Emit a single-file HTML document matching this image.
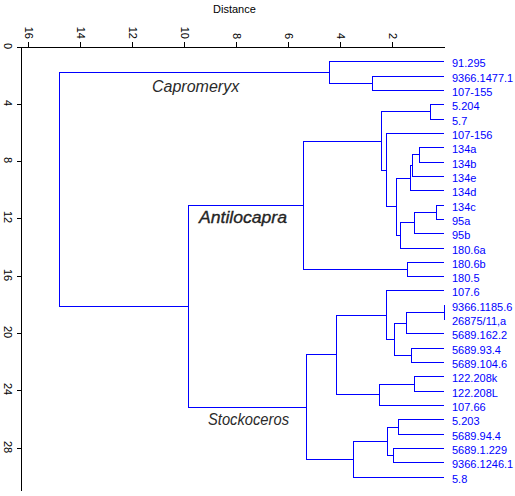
<!DOCTYPE html>
<html><head><meta charset="utf-8"><style>
html,body{margin:0;padding:0;background:#fff;width:515px;height:496px;overflow:hidden}
svg{display:block}
text{font-family:"Liberation Sans",sans-serif}
.lab text{font-size:11px;fill:#0000ff}
.tk text{font-size:11px;fill:#000}
.cl{font-family:"Liberation Sans",sans-serif;font-style:italic;font-size:16px;fill:#2a2a2a}
</style></head><body>
<svg width="515" height="496" viewBox="0 0 515 496" shape-rendering="crispEdges">
<g><rect x="372" y="76" width="1" height="15" fill="#0000ff"/><rect x="372" y="76" width="72" height="1" fill="#0000ff"/><rect x="372" y="90" width="72" height="1" fill="#0000ff"/><rect x="329" y="61" width="1" height="23" fill="#0000ff"/><rect x="329" y="61" width="115" height="1" fill="#0000ff"/><rect x="329" y="83" width="44" height="1" fill="#0000ff"/><rect x="430" y="104" width="1" height="16" fill="#0000ff"/><rect x="430" y="104" width="14" height="1" fill="#0000ff"/><rect x="430" y="119" width="14" height="1" fill="#0000ff"/><rect x="419" y="147" width="1" height="16" fill="#0000ff"/><rect x="419" y="147" width="25" height="1" fill="#0000ff"/><rect x="419" y="162" width="25" height="1" fill="#0000ff"/><rect x="412" y="154" width="1" height="23" fill="#0000ff"/><rect x="412" y="154" width="8" height="1" fill="#0000ff"/><rect x="412" y="176" width="32" height="1" fill="#0000ff"/><rect x="410" y="165" width="1" height="26" fill="#0000ff"/><rect x="410" y="165" width="3" height="1" fill="#0000ff"/><rect x="410" y="190" width="34" height="1" fill="#0000ff"/><rect x="436" y="205" width="1" height="15" fill="#0000ff"/><rect x="436" y="205" width="8" height="1" fill="#0000ff"/><rect x="436" y="219" width="8" height="1" fill="#0000ff"/><rect x="414" y="212" width="1" height="22" fill="#0000ff"/><rect x="414" y="212" width="23" height="1" fill="#0000ff"/><rect x="414" y="233" width="30" height="1" fill="#0000ff"/><rect x="400" y="222" width="1" height="27" fill="#0000ff"/><rect x="400" y="222" width="15" height="1" fill="#0000ff"/><rect x="400" y="248" width="44" height="1" fill="#0000ff"/><rect x="396" y="178" width="1" height="58" fill="#0000ff"/><rect x="396" y="178" width="15" height="1" fill="#0000ff"/><rect x="396" y="235" width="5" height="1" fill="#0000ff"/><rect x="386" y="133" width="1" height="74" fill="#0000ff"/><rect x="386" y="133" width="58" height="1" fill="#0000ff"/><rect x="386" y="206" width="11" height="1" fill="#0000ff"/><rect x="381" y="111" width="1" height="60" fill="#0000ff"/><rect x="381" y="111" width="50" height="1" fill="#0000ff"/><rect x="381" y="170" width="6" height="1" fill="#0000ff"/><rect x="407" y="262" width="1" height="15" fill="#0000ff"/><rect x="407" y="262" width="37" height="1" fill="#0000ff"/><rect x="407" y="276" width="37" height="1" fill="#0000ff"/><rect x="303" y="141" width="1" height="129" fill="#0000ff"/><rect x="303" y="141" width="79" height="1" fill="#0000ff"/><rect x="303" y="269" width="105" height="1" fill="#0000ff"/><rect x="444" y="305" width="1" height="15" fill="#0000ff"/><rect x="406" y="312" width="1" height="22" fill="#0000ff"/><rect x="406" y="312" width="39" height="1" fill="#0000ff"/><rect x="406" y="333" width="38" height="1" fill="#0000ff"/><rect x="411" y="348" width="1" height="15" fill="#0000ff"/><rect x="411" y="348" width="33" height="1" fill="#0000ff"/><rect x="411" y="362" width="33" height="1" fill="#0000ff"/><rect x="394" y="323" width="1" height="33" fill="#0000ff"/><rect x="394" y="323" width="13" height="1" fill="#0000ff"/><rect x="394" y="355" width="18" height="1" fill="#0000ff"/><rect x="386" y="290" width="1" height="50" fill="#0000ff"/><rect x="386" y="290" width="58" height="1" fill="#0000ff"/><rect x="386" y="339" width="9" height="1" fill="#0000ff"/><rect x="414" y="376" width="1" height="16" fill="#0000ff"/><rect x="414" y="376" width="30" height="1" fill="#0000ff"/><rect x="414" y="391" width="30" height="1" fill="#0000ff"/><rect x="379" y="384" width="1" height="22" fill="#0000ff"/><rect x="379" y="384" width="36" height="1" fill="#0000ff"/><rect x="379" y="405" width="65" height="1" fill="#0000ff"/><rect x="336" y="315" width="1" height="80" fill="#0000ff"/><rect x="336" y="315" width="51" height="1" fill="#0000ff"/><rect x="336" y="394" width="44" height="1" fill="#0000ff"/><rect x="398" y="419" width="1" height="16" fill="#0000ff"/><rect x="398" y="419" width="46" height="1" fill="#0000ff"/><rect x="398" y="434" width="46" height="1" fill="#0000ff"/><rect x="393" y="448" width="1" height="15" fill="#0000ff"/><rect x="393" y="448" width="51" height="1" fill="#0000ff"/><rect x="393" y="462" width="51" height="1" fill="#0000ff"/><rect x="387" y="427" width="1" height="29" fill="#0000ff"/><rect x="387" y="427" width="12" height="1" fill="#0000ff"/><rect x="387" y="455" width="7" height="1" fill="#0000ff"/><rect x="353" y="441" width="1" height="37" fill="#0000ff"/><rect x="353" y="441" width="35" height="1" fill="#0000ff"/><rect x="353" y="477" width="91" height="1" fill="#0000ff"/><rect x="306" y="354" width="1" height="106" fill="#0000ff"/><rect x="306" y="354" width="31" height="1" fill="#0000ff"/><rect x="306" y="459" width="48" height="1" fill="#0000ff"/><rect x="188" y="205" width="1" height="203" fill="#0000ff"/><rect x="188" y="205" width="116" height="1" fill="#0000ff"/><rect x="188" y="407" width="119" height="1" fill="#0000ff"/><rect x="59" y="72" width="1" height="235" fill="#0000ff"/><rect x="59" y="72" width="271" height="1" fill="#0000ff"/><rect x="59" y="306" width="130" height="1" fill="#0000ff"/><rect x="17" y="47" width="428" height="1" fill="#000000"/><rect x="21" y="47" width="1" height="444" fill="#000000"/><rect x="392" y="42" width="1" height="5" fill="#000000"/><rect x="340" y="42" width="1" height="5" fill="#000000"/><rect x="288" y="42" width="1" height="5" fill="#000000"/><rect x="236" y="42" width="1" height="5" fill="#000000"/><rect x="184" y="42" width="1" height="5" fill="#000000"/><rect x="132" y="42" width="1" height="5" fill="#000000"/><rect x="80" y="42" width="1" height="5" fill="#000000"/><rect x="28" y="42" width="1" height="5" fill="#000000"/><rect x="17" y="47" width="4" height="1" fill="#000000"/><rect x="17" y="104" width="4" height="1" fill="#000000"/><rect x="17" y="161" width="4" height="1" fill="#000000"/><rect x="17" y="218" width="4" height="1" fill="#000000"/><rect x="17" y="276" width="4" height="1" fill="#000000"/><rect x="17" y="333" width="4" height="1" fill="#000000"/><rect x="17" y="390" width="4" height="1" fill="#000000"/><rect x="17" y="448" width="4" height="1" fill="#000000"/></g>
<g class="lab"><text x="452" y="67">91.295</text><text x="452" y="82">9366.1477.1</text><text x="452" y="96">107-155</text><text x="452" y="110">5.204</text><text x="452" y="125">5.7</text><text x="452" y="139">107-156</text><text x="452" y="153">134a</text><text x="452" y="168">134b</text><text x="452" y="182">134e</text><text x="452" y="196">134d</text><text x="452" y="211">134c</text><text x="452" y="225">95a</text><text x="452" y="239">95b</text><text x="452" y="254">180.6a</text><text x="452" y="268">180.6b</text><text x="452" y="282">180.5</text><text x="452" y="296">107.6</text><text x="452" y="311">9366.1185.6</text><text x="452" y="325">26875/11,a</text><text x="452" y="339">5689.162.2</text><text x="452" y="354">5689.93.4</text><text x="452" y="368">5689.104.6</text><text x="452" y="382">122.208k</text><text x="452" y="397">122.208L</text><text x="452" y="411">107.66</text><text x="452" y="425">5.203</text><text x="452" y="440">5689.94.4</text><text x="452" y="454">5689.1.229</text><text x="452" y="468">9366.1246.1</text><text x="452" y="483">5.8</text></g>
<g class="tk"><text transform="translate(389,39) rotate(90)" text-anchor="end">2</text><text transform="translate(337,39) rotate(90)" text-anchor="end">4</text><text transform="translate(285,39) rotate(90)" text-anchor="end">6</text><text transform="translate(233,39) rotate(90)" text-anchor="end">8</text><text transform="translate(181,39) rotate(90)" text-anchor="end">10</text><text transform="translate(129,39) rotate(90)" text-anchor="end">12</text><text transform="translate(77,39) rotate(90)" text-anchor="end">14</text><text transform="translate(25,39) rotate(90)" text-anchor="end">16</text><text transform="translate(4,46) rotate(90)" text-anchor="middle">0</text><text transform="translate(4,103) rotate(90)" text-anchor="middle">4</text><text transform="translate(4,160) rotate(90)" text-anchor="middle">8</text><text transform="translate(4,217) rotate(90)" text-anchor="middle">12</text><text transform="translate(4,275) rotate(90)" text-anchor="middle">16</text><text transform="translate(4,332) rotate(90)" text-anchor="middle">20</text><text transform="translate(4,389) rotate(90)" text-anchor="middle">24</text><text transform="translate(4,447) rotate(90)" text-anchor="middle">28</text></g>
<text x="213" y="13" style="font-size:11px;fill:#000">Distance</text>
<text class="cl" x="152" y="92">Capromeryx</text>
<text class="cl" x="199" y="223" textLength="88" lengthAdjust="spacingAndGlyphs" style="stroke:#111;stroke-width:0.3px">Antilocapra</text>
<text class="cl" x="208" y="425" textLength="81" lengthAdjust="spacingAndGlyphs">Stockoceros</text>
</svg>
</body></html>
